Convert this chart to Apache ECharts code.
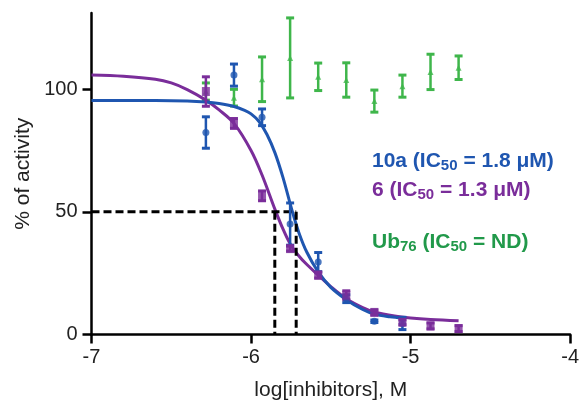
<!DOCTYPE html>
<html>
<head>
<meta charset="utf-8">
<script src="https://cdn.jsdelivr.net/npm/echarts@6/dist/echarts.min.js"></script>
<style>
html, body { margin: 0; padding: 0; background: #fff; }
#chart { width: 582px; height: 407px; }
</style>
</head>
<body>
<div id="chart"></div>
<script>
// log[M] of the 10 dilutions
var doseLog = [-6.283, -6.107, -5.931, -5.755, -5.579, -5.403, -5.227, -5.051, -4.875, -4.699];

var mean10a = [82.3, 105.7, 88.5, 45, 29.5, 14.6, 5.4, 4.5];
var sd10a = [6.4, 4.5, 3.4, 8.6, 3.9, 1.6, 0.5, 2.5];
var mean6 = [99, 86, 56.5, 35, 24.2, 16, 9, 5, 3.5, 2.4];
var sd6 = [6, 2, 2, 1, 1.2, 1.8, 1, 1, 1.2, 1.2];
var meanUb = [99, 96.5, 104, 112.7, 105, 103.7, 95.1, 101.2, 107, 108.7];
var sdUb = [3.5, 3.4, 9.1, 16.3, 5.6, 7, 4.5, 4.5, 7.2, 4.8];

// fitted curves
var fitX10a = [-7, -6.6, -6.4, -6.283, -6.2, -6.107, -6.04, -6.0, -5.95, -5.9, -5.85, -5.8, -5.745, -5.7, -5.65, -5.579, -5.5, -5.403, -5.3, -5.227, -5.13, -5.051];
var fitY10a = [95.3, 95.3, 95.1, 94.7, 94.1, 92.9, 91.3, 89.9, 86.8, 81.5, 74, 64, 51, 41.5, 33.5, 25.5, 19.2, 14.2, 10.2, 8.3, 7.2, 6.7];
var fitX6 = [-7, -6.8, -6.6, -6.5, -6.4, -6.283, -6.2, -6.107, -6.0, -5.931, -5.85, -5.8, -5.755, -5.7, -5.65, -5.579, -5.5, -5.403, -5.3, -5.227, -5.1, -5.0, -4.875, -4.699];
var fitY6 = [105.7, 105.2, 104, 102.5, 99.8, 95.5, 91.5, 86, 75, 65, 51, 43, 37, 32, 28.5, 24.2, 19.5, 14.6, 11, 9.2, 7.5, 6.7, 6.1, 5.6];

// IC50 guide lines (log M) at 50 %
var ic50Log = [-5.851, -5.717];
var halfLevel = 50;

var xTicks = [-7, -6, -5, -4];
var yTicks = [0, 50, 100];

var blue = '#1f56b0';
var purple = '#7a2d9a';
var green = '#3fb64b';
var greenText = '#21994a';
var fontFam = '"Liberation Sans", Arial, Helvetica, sans-serif';

function pairs(xs, ys) {
    var out = [];
    for (var i = 0; i < ys.length; i++) out.push([xs[i], ys[i]]);
    return out;
}

function triples(xs, ys, es) {
    var out = [];
    for (var i = 0; i < ys.length; i++) out.push([xs[i], ys[i], es[i]]);
    return out;
}

function errorBars(color, capHalf) {
    return function (params, api) {
        var x = api.value(0), m = api.value(1), s = api.value(2);
        var top = api.coord([x, m + s]);
        var bot = api.coord([x, m - s]);
        var st = { stroke: color, lineWidth: 2.5 };
        return {
            type: 'group',
            children: [
                { type: 'line', shape: { x1: top[0], y1: top[1], x2: bot[0], y2: bot[1] }, style: st },
                { type: 'line', shape: { x1: top[0] - capHalf, y1: top[1], x2: top[0] + capHalf, y2: top[1] }, style: { stroke: color, lineWidth: 3 } },
                { type: 'line', shape: { x1: bot[0] - capHalf, y1: bot[1], x2: bot[0] + capHalf, y2: bot[1] }, style: { stroke: color, lineWidth: 3 } }
            ]
        };
    };
}

function label(text, top, color) {
    return {
        type: 'text',
        left: 372,
        top: top,
        style: {
            text: text,
            fill: color,
            rich: {
                a: { fontFamily: fontFam, fontSize: 21, fontWeight: 'bold', lineHeight: 24, fill: color },
                s: { fontFamily: fontFam, fontSize: 15, fontWeight: 'bold', lineHeight: 15, padding: [9, 0, 0, 0], verticalAlign: 'bottom', fill: color }
            }
        }
    };
}

var myChart = echarts.init(document.getElementById('chart'));

var option = {
    backgroundColor: '#fff',
    animation: false,
    grid: { left: 91.5, right: 9.5, top: 13, bottom: 72.5 },
    xAxis: {
        type: 'value',
        min: -7,
        max: -4,
        interval: 1,
        name: 'log[inhibitors], M',
        nameLocation: 'middle',
        nameGap: 45,
        nameTextStyle: { color: '#222', fontSize: 21, fontFamily: fontFam },
        axisLine: { onZero: false, lineStyle: { color: '#000', width: 2.5 } },
        axisTick: { length: 9, lineStyle: { color: '#000', width: 2.5 }, customValues: xTicks },
        axisLabel: { color: '#222', fontSize: 20, fontFamily: fontFam, margin: 13, customValues: xTicks },
        splitLine: { show: false }
    },
    yAxis: {
        type: 'value',
        min: 0,
        max: 131,
        name: '% of activity',
        nameLocation: 'middle',
        nameGap: 58,
        nameTextStyle: { color: '#222', fontSize: 21, fontFamily: fontFam },
        axisLine: { show: true, onZero: false, lineStyle: { color: '#000', width: 2.5 } },
        axisTick: { show: true, length: 9, lineStyle: { color: '#000', width: 2.5 }, customValues: yTicks },
        axisLabel: { color: '#222', fontSize: 20, fontFamily: fontFam, margin: 14, customValues: yTicks },
        splitLine: { show: false }
    },
    graphic: [
        label('{a|10a (IC}{s|50}{a| = 1.8 μM)}', 149, blue),
        label('{a|6 (IC}{s|50}{a| = 1.3 μM)}', 178, purple),
        label('{a|Ub}{s|76}{a| (IC}{s|50}{a| = ND)}', 230.5, greenText)
    ],
    series: [
        {
            name: 'Ub76 err',
            type: 'custom',
            renderItem: errorBars(green, 4),
            data: triples(doseLog, meanUb, sdUb),
            z: 2
        },
        {
            name: 'Ub76',
            type: 'scatter',
            symbol: 'triangle',
            symbolSize: 6,
            itemStyle: { color: green },
            data: pairs(doseLog, meanUb),
            z: 3
        },
        {
            name: 'IC50 h',
            type: 'line',
            symbol: 'none',
            lineStyle: { color: '#000', width: 3, type: [8, 4] },
            data: [[-7, halfLevel], [ic50Log[1], halfLevel]],
            z: 6
        },
        {
            name: 'IC50 v1',
            type: 'line',
            symbol: 'none',
            lineStyle: { color: '#000', width: 3, type: [8, 4] },
            data: [[ic50Log[0], halfLevel], [ic50Log[0], 0]],
            z: 6
        },
        {
            name: 'IC50 v2',
            type: 'line',
            symbol: 'none',
            lineStyle: { color: '#000', width: 3, type: [8, 4] },
            data: [[ic50Log[1], halfLevel], [ic50Log[1], 0]],
            z: 6
        },
        {
            name: '6 fit',
            type: 'line',
            symbol: 'none',
            smooth: 0.35,
            lineStyle: { color: purple, width: 3 },
            data: pairs(fitX6, fitY6),
            z: 4
        },
        {
            name: '10a fit',
            type: 'line',
            symbol: 'none',
            smooth: 0.35,
            lineStyle: { color: blue, width: 3 },
            data: pairs(fitX10a, fitY10a),
            z: 5
        },
        {
            name: '10a err',
            type: 'custom',
            renderItem: errorBars(blue, 4),
            data: triples(doseLog, mean10a, sd10a),
            z: 7
        },
        {
            name: '10a',
            type: 'scatter',
            symbol: 'circle',
            symbolSize: 7,
            itemStyle: { color: blue },
            data: pairs(doseLog, mean10a),
            z: 8
        },
        {
            name: '6 err',
            type: 'custom',
            renderItem: errorBars(purple, 4),
            data: triples(doseLog, mean6, sd6),
            z: 7
        },
        {
            name: '6',
            type: 'scatter',
            symbol: 'rect',
            symbolSize: [8, 9],
            itemStyle: { color: purple },
            data: pairs(doseLog, mean6),
            z: 8
        }
    ]
};

myChart.setOption(option);
</script>
</body>
</html>
